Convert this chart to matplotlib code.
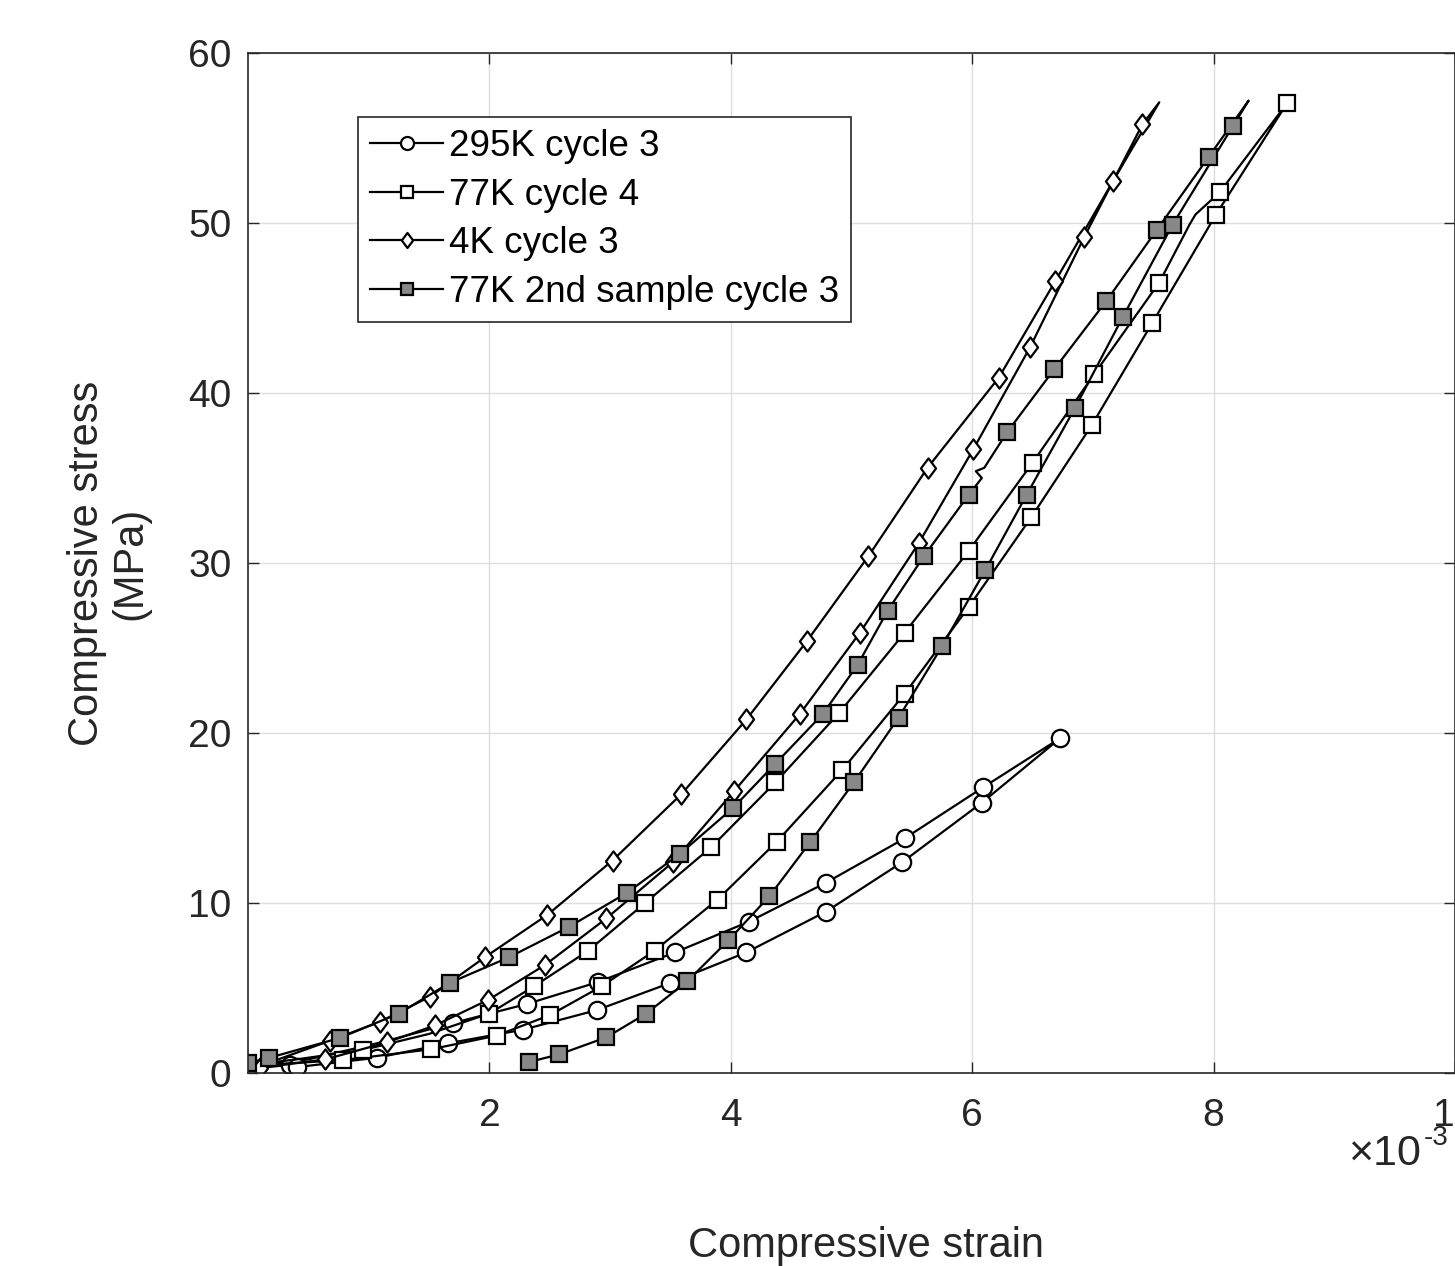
import matplotlib
matplotlib.use("Agg")
import matplotlib.pyplot as plt
from matplotlib.path import Path

plt.rcParams["font.family"] = ["Liberation Sans", "DejaVu Sans"]

# strain values are in units of 1e-3, stress in MPa
# 1 = point carries a marker, 0 = plain line vertex
k295_strain = [0.05, 0.35, 0.41, 1.07, 1.66, 2.28, 2.89, 3.50, 4.13, 4.79, 5.42, 6.08, 6.73,
               6.09, 5.44, 4.79, 4.15, 3.54, 2.90, 2.31, 1.70, 1.10, 0.50, 0.05]
k295_stress = [0.30, 0.47, 0.35, 0.90, 1.75, 2.55, 3.70, 5.30, 7.10, 9.50, 12.4, 15.9, 19.7,
               16.8, 13.8, 11.2, 8.90, 7.10, 5.35, 4.06, 2.94, 1.80, 0.80, 0.40]
k295_mark = [0, 1, 1, 1, 1, 1, 1, 1, 1, 1, 1, 1, 1,
             1, 1, 1, 1, 1, 1, 1, 1, 0, 0, 0]

k77_strain = [0.05, 0.79, 1.52, 2.06, 2.50, 2.93, 3.37, 3.89, 4.38, 4.92, 5.44, 5.97, 6.49,
              6.99, 7.49, 8.02, 8.61,
              8.05, 7.85, 7.80, 7.55, 7.01, 6.50, 5.97, 5.44, 4.90, 4.37, 3.84, 3.29, 2.82,
              2.37, 2.00, 1.50, 0.95, 0.40, 0.05]
k77_stress = [0.45, 0.76, 1.40, 2.20, 3.40, 5.10, 7.20, 10.2, 13.6, 17.8, 22.3, 27.4, 32.7,
              38.1, 44.1, 50.5, 57.06,
              51.8, 50.5, 49.9, 46.5, 41.1, 35.9, 30.7, 25.9, 21.2, 17.1, 13.3, 10.0, 7.20,
              5.10, 3.50, 2.30, 1.35, 0.80, 0.50]
k77_mark = [0, 1, 1, 1, 1, 1, 1, 1, 1, 1, 1, 1, 1,
            1, 1, 1, 1,
            1, 0, 0, 1, 1, 1, 1, 1, 1, 1, 1, 1, 1,
            1, 1, 0, 1, 0, 0]

k4_strain = [0.10, 0.64, 1.15, 1.55, 1.99, 2.46, 2.97, 3.52, 4.03, 4.57, 5.07, 5.56, 6.01,
             6.48, 6.93, 7.41, 7.55,
             7.17, 6.69, 6.22, 5.63, 5.14, 4.63, 4.13, 3.59, 3.02, 2.48, 1.96, 1.51, 1.09,
             0.68, 0.25, 0.05]
k4_stress = [0.30, 0.80, 1.80, 2.80, 4.30, 6.35, 9.10, 12.4, 16.6, 21.1, 25.9, 31.2, 36.7,
             42.7, 49.2, 55.8, 57.1,
             52.5, 46.6, 40.9, 35.6, 30.4, 25.4, 20.8, 16.4, 12.5, 9.30, 6.80, 4.50, 3.00,
             1.90, 0.80, 0.45]
k4_mark = [1, 1, 1, 1, 1, 1, 1, 1, 1, 1, 1, 1, 1,
           1, 1, 1, 0,
           1, 1, 1, 1, 1, 1, 1, 1, 1, 1, 1, 1, 1,
           1, 0, 0]

k77b_strain = [2.33, 2.58, 2.97, 3.30, 3.64, 3.98, 4.32, 4.66, 5.02, 5.39, 5.75, 6.11, 6.45,
               6.85, 7.25, 7.66, 8.16, 8.29,
               7.96, 7.53, 7.11, 6.68, 6.29, 6.10, 6.03, 6.08, 5.97, 5.60, 5.30, 5.05, 4.76,
               4.37, 4.02, 3.58, 3.14, 2.66, 2.16, 1.67, 1.25, 0.76, 0.17, 0.00]
k77b_stress = [0.65, 1.10, 2.10, 3.50, 5.40, 7.80, 10.4, 13.6, 17.1, 20.9, 25.1, 29.6, 34.0,
               39.1, 44.5, 49.9, 55.7, 57.2,
               53.9, 49.6, 45.4, 41.4, 37.7, 35.6, 35.4, 35.0, 34.0, 30.4, 27.2, 24.0, 21.1,
               18.2, 15.6, 12.9, 10.6, 8.60, 6.80, 5.30, 3.50, 2.06, 0.88, 0.60]
k77b_mark = [1, 1, 1, 1, 1, 1, 1, 1, 1, 1, 1, 1, 1,
             1, 1, 1, 1, 0,
             1, 1, 1, 1, 1, 0, 0, 0, 1, 1, 1, 1, 1,
             1, 1, 1, 1, 1, 1, 1, 1, 1, 1, 1]

x_ticks = [2, 4, 6, 8, 10]
y_ticks = [0, 10, 20, 30, 40, 50, 60]

INK = "#262626"

# MATLAB-like diamond: a bit wider than matplotlib's thin 'd'
DIAMOND = Path([(0, 1), (0.75, 0), (0, -1), (-0.75, 0), (0, 1)],
               [Path.MOVETO, Path.LINETO, Path.LINETO, Path.LINETO, Path.CLOSEPOLY])


def main():
    fig = plt.figure(figsize=(14.55, 12.66), dpi=100)
    ax = fig.add_axes([248 / 1455, 1 - 1073 / 1266, 1207 / 1455, 1020 / 1266])

    series = [
        (k295_strain, k295_stress, k295_mark, "o", "white", 12.5, "295K cycle 3"),
        (k77_strain, k77_stress, k77_mark, "s", "white", 11, "77K cycle 4"),
        (k4_strain, k4_stress, k4_mark, DIAMOND, "white", 14.5, "4K cycle 3"),
        (k77b_strain, k77b_stress, k77b_mark, "s", "#888888", 11, "77K 2nd sample cycle 3"),
    ]
    for xs, ys, mk, m, fc, ms, lab in series:
        every = [i for i, f in enumerate(mk) if f]
        ax.plot(xs, ys, color="black", linewidth=1.6, marker=m,
                markersize=ms, markerfacecolor=fc, markeredgecolor="black",
                markeredgewidth=1.6, markevery=every, label=lab)

    ax.set_xlim(0, 10)
    ax.set_ylim(0, 60)
    ax.set_xticks(x_ticks)
    ax.set_xticklabels([str(t) for t in x_ticks])
    ax.set_yticks(y_ticks)

    ax.grid(True, color="#dedede", linewidth=1)
    ax.set_axisbelow(True)
    for sp in ax.spines.values():
        sp.set_color(INK)
        sp.set_linewidth(1.2)
    ax.tick_params(direction="in", length=8, width=1, top=True, right=True,
                   labelsize=28, colors=INK, pad=12)
    ax.tick_params(axis="x", pad=18)

    ax.set_xlabel("Compressive strain", fontsize=30, color=INK)
    ax.xaxis.set_label_coords(0.512, -0.150)
    ax.set_ylabel("Compressive stress\n(MPa)", fontsize=30, color=INK, linespacing=1.1)
    ax.yaxis.set_label_coords(-0.081, 0.5)

    # exponent note under the right end of the x axis
    ax.text(0.9115, -0.079, "\u00d710", transform=ax.transAxes, fontsize=31,
            color=INK, ha="left", va="center")
    ax.text(0.9745, -0.064, "-3", transform=ax.transAxes, fontsize=20,
            color=INK, ha="left", va="center")

    leg = ax.legend(loc="upper left", bbox_to_anchor=(0.0911, 0.937), borderaxespad=0,
                    fontsize=26.5, frameon=True, fancybox=False, framealpha=1,
                    edgecolor=INK, handlelength=2.0, handletextpad=0.15,
                    labelspacing=0.37, borderpad=0.32, markerscale=0.75)
    leg.get_frame().set_linewidth(1.2)

    fig.savefig("out.png", dpi=100)


if __name__ == "__main__":
    main()
